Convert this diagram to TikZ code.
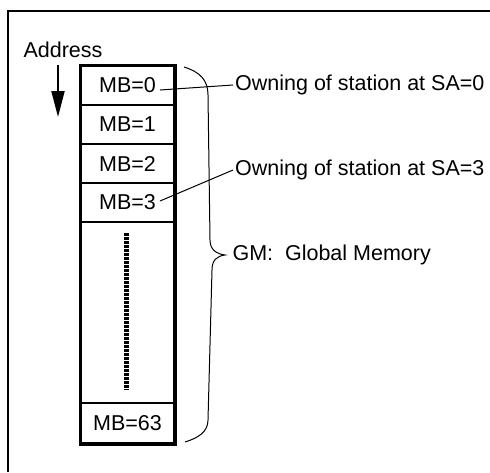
\documentclass[tikz,border=0pt]{standalone}
\usepackage{fontspec}
\setmainfont{Liberation Sans}
\usetikzlibrary{arrows.meta,calc}

\begin{document}
\begin{tikzpicture}[x=1pt,y=-1pt,
        font=\fontsize{21.5}{24}\selectfont,
        cell/.style={draw,line width=2pt,minimum width=93pt,inner sep=0pt},
        conn/.style={line width=1pt}]
        \useasboundingbox (0,0) rectangle (490,472);

        % frame
        \draw[line width=1.5pt] (490,11) -- (8,11) -- (8,472);

        % Address label and arrow
        \node (addr) at (63,50) {Address};
        \coordinate (addrTop) at (58,65);
        \coordinate (addrEnd) at (58,117);
        \draw[-{Triangle[length=26pt,width=13pt]},line width=2pt] (addrTop) -- (addrEnd);

        % memory blocks
        \node[cell,minimum height=39pt] (mb0) at (127.5,85.5) {MB=0};
        \node[cell,minimum height=39pt] (mb1) at (127.5,124.5) {MB=1};
        \node[cell,minimum height=39pt] (mb2) at (127.5,163.5) {MB=2};
        \node[cell,minimum height=39pt] (mb3) at (127.5,202.5) {MB=3};
        \node[cell,minimum height=181pt] (mbDots) at (127.5,312.5) {};
        \node[cell,minimum height=40pt] (mb63) at (127.5,423) {MB=63};
        \draw[line width=3pt] (mb0.north west) rectangle (mb63.south east);

        % dots between the blocks
        \coordinate (dotsTop) at (126,233);
        \coordinate (dotsEnd) at (126,390);
        \draw[line width=5pt,dash pattern=on 2.5pt off 1.5pt] (dotsTop) -- (dotsEnd);

        % brace
        \draw[conn] (184,67) .. controls (200,72) and (208,80) .. (208,95) -- (210,240)
            .. controls (210,250) and (217,254) .. (225,255)
            .. controls (217,256) and (212,260) .. (212,270) -- (208,420)
            .. controls (208,432) and (198,438) .. (185,442);
        \node[anchor=west] (gm) at (229,255) {GM:\ \ Global Memory};

        % owning labels
        \node[anchor=west,inner sep=2pt] (own0) at (233,85) {Owning of station at SA=0};
        \node[anchor=west,inner sep=2pt] (own3) at (233,170) {Owning of station at SA=3};
        \coordinate (mb0Pin) at (160,90);
        \coordinate (mb3Pin) at (160,201);
        \draw[conn] (mb0Pin) -- (own0.west);
        \draw[conn] (mb3Pin) -- (own3.west);

\end{tikzpicture}
\end{document}
